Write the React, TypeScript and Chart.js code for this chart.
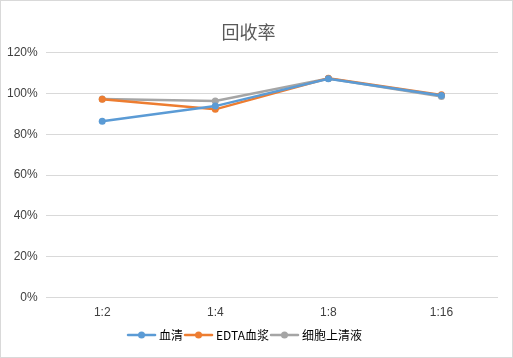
import React, { useEffect, useRef } from "react";
import { Chart, registerables } from "chart.js";

Chart.register(...registerables);

const categories = ["1:2", "1:4", "1:8", "1:16"];
const serum = [86.4, 93.8, 107.2, 99.0];
const edtaPlasma = [97.2, 92.2, 107.4, 99.3];
const supernatant = [97.3, 96.3, 107.3, 98.5];
const seriesNames = ["血清", "EDTA血浆", "细胞上清液"];
const seriesColors = ["#5B9BD5", "#ED7D31", "#A5A5A5"];

function legendIcon(color: string): HTMLCanvasElement {
  const c = document.createElement("canvas");
  c.width = 36;
  c.height = 10;
  const ctx = c.getContext("2d")!;
  ctx.strokeStyle = color;
  ctx.lineWidth = 2.5;
  ctx.lineCap = "round";
  ctx.beginPath();
  ctx.moveTo(2, 5);
  ctx.lineTo(29, 5);
  ctx.stroke();
  ctx.fillStyle = color;
  ctx.beginPath();
  ctx.arc(15.5, 5, 3.5, 0, Math.PI * 2);
  ctx.fill();
  return c;
}

export default function App() {
  const ref = useRef<HTMLCanvasElement>(null);
  useEffect(() => {
    document.body.style.margin = "0";
    const icons = seriesColors.map(legendIcon);
    const values = [serum, edtaPlasma, supernatant];
    const chart = new Chart(ref.current!, {
      type: "line",
      data: {
        labels: categories,
        datasets: values.map((v, i) => ({
          label: seriesNames[i],
          data: v,
          borderColor: seriesColors[i],
          backgroundColor: seriesColors[i],
          borderWidth: 2.5,
          pointRadius: 3.5,
          pointHoverRadius: 3.5,
          pointBorderWidth: 0,
          tension: 0,
        })),
      },
      options: {
        animation: false,
        responsive: false,
        maintainAspectRatio: false,
        layout: { padding: { left: -2, right: 14, top: 10, bottom: 6 } },
        plugins: {
          title: {
            display: true,
            text: "回收率",
            color: "#595959",
            font: { family: "'Noto Sans CJK SC'", size: 18, weight: "normal" },
            padding: { top: 10, bottom: 10 },
          },
          legend: {
            position: "bottom",
            labels: {
              usePointStyle: true,
              pointStyleWidth: 18,
              padding: 9,
              color: "#000000",
              font: { family: "'Liberation Sans Narrow', 'Noto Sans CJK SC'", size: 12 },
              generateLabels: (ch: any) => {
                const items = Chart.defaults.plugins.legend.labels.generateLabels(ch);
                return items.map((it: any, i: number) => ({ ...it, pointStyle: icons[i] }));
              },
            },
          },
          tooltip: { enabled: false },
        },
        scales: {
          x: {
            offset: true,
            grid: { display: false },
            border: { display: false },
            ticks: { color: "#404040", font: { family: "'Liberation Sans'", size: 12 }, padding: 0 },
          },
          y: {
            min: 0,
            max: 120,
            grid: { color: "#D9D9D9", drawTicks: false },
            border: { display: false },
            ticks: {
              stepSize: 20,
              color: "#404040",
              font: { family: "'Liberation Sans'", size: 12 },
              padding: 8,
              callback: (v: any) => v + "%",
            },
          },
        },
      },
    });
    return () => chart.destroy();
  }, []);
  return (
    <div
      style={{
        position: "fixed",
        left: 0,
        top: 0,
        width: 513,
        height: 358,
        boxSizing: "border-box",
        border: "1px solid #D9D9D9",
        background: "#fff",
      }}
    >
      <canvas ref={ref} width={511} height={356} style={{ display: "block" }} />
    </div>
  );
}
